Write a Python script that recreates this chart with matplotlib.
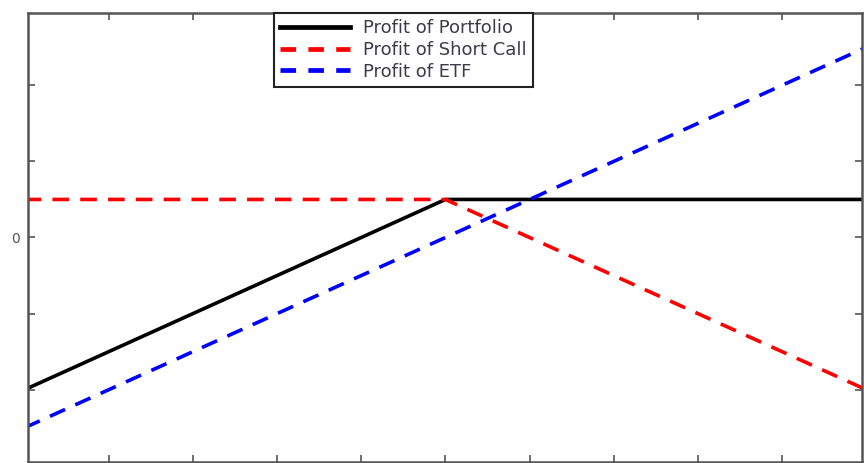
import matplotlib.pyplot as plt

# Covered call: long ETF bought at 50, short call struck at 50 for a premium of 10
price = [0, 50, 100]
profit_portfolio = [-40, 10, 10]
profit_short_call = [10, 10, -40]
profit_etf = [-50, 0, 50]

x_ticks = [10, 20, 30, 40, 50, 60, 70, 80, 90]
y_ticks = [-40, -20, 0, 20, 40]
y_tick_labels = ['', '', '0', '', '']

dash = (0, (4.6, 3.1))

fig = plt.figure(figsize=(8.64, 4.63), dpi=100)
ax = fig.add_axes([0.0324, 0.0022, 0.9653, 0.9697])

ax.plot(price, profit_portfolio, color='black', lw=2.6, label='Profit of Portfolio')
ax.plot(price, profit_short_call, color='#ff0000', lw=2.6,
        linestyle=dash, label='Profit of Short Call')
ax.plot(price, profit_etf, color='#0000ff', lw=2.6,
        linestyle=dash, label='Profit of ETF')

ax.set_xlim(0.4, 99.5)
ax.set_ylim(-59, 59)
ax.set_xticks(x_ticks)
ax.set_xticklabels([])
ax.set_yticks(y_ticks)
ax.set_yticklabels(y_tick_labels)

ax.tick_params(direction='in', length=5, width=1.2, color='#555555',
               top=True, right=True, labelsize=10, labelcolor='#555555', pad=6)
for spine in ax.spines.values():
    spine.set_color('#555555')
    spine.set_linewidth(1.8)

leg = ax.legend(loc='upper left', bbox_to_anchor=(0.2945, 1.0), fontsize=13,
                handlelength=3.9, handletextpad=0.7, borderpad=0.35,
                labelspacing=0.2, borderaxespad=0, fancybox=False,
                framealpha=1, edgecolor='#222222', labelcolor='#3c3c48')
leg.get_frame().set_linewidth(1.5)
for line in leg.get_lines():
    line.set_linewidth(3.4)
    if line.get_linestyle() != '-':
        line.set_linestyle((0, (3.3, 2.6)))

fig.savefig('out.png', dpi=100)
